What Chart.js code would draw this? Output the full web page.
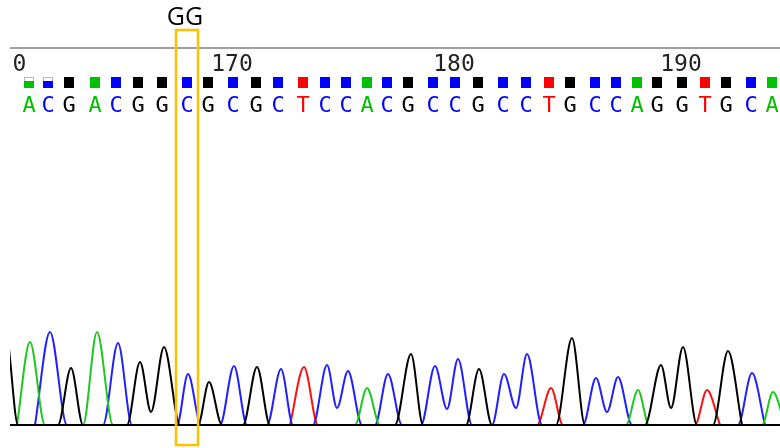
<!DOCTYPE html>
<html>
<head>
<meta charset="utf-8">
<script src="https://cdn.jsdelivr.net/npm/chart.js@4/dist/chart.umd.min.js"></script>
<style>
  html, body { margin: 0; padding: 0; background: #fff; }
</style>
</head>
<body>
<canvas id="trace" width="780" height="448"></canvas>
<script>
// base calls shown on the ruler (first visible base is 161)
const firstBase = 161;
const baseCalls = ['A','C','G','A','C','G','G','C','G','C','G','C','T','C','C','A','C',
                   'G','C','C','G','C','C','T','G','C','C','A','G','G','T','G','C','A'];
// scan position of each call
const baseScans = [19, 38, 59, 85, 106, 128, 152, 177, 198, 223, 246, 268, 293, 315, 336, 357, 377,
                   398, 423, 445, 468, 493, 516, 539, 560, 585, 606, 627, 647, 672, 695, 716, 741, 762];
// quality values (box fill)
const baseQuality = [25, 25, 40, 40, 40, 40, 40, 40, 40, 40, 40, 40, 40, 40, 40, 40, 40,
                     40, 40, 40, 40, 40, 40, 40, 40, 40, 40, 40, 40, 40, 40, 40, 40, 40];
const rulerNumbers = [160, 170, 180, 190];
const highlightBase = 168;
const highlightLabel = 'GG';

// trace points as [scan, signal]
const traceA = [[7,0],[20,83],[35,0],[73,0],[87,93],[103,0],[345,0],[357,37],[370,0],
                [616,0],[628,35],[639,0],[752,0],[763,33],[775,0]];
const traceC = [[25,0],[40,93],[57,0],[93,0],[108,82],[122,0],[167,0],[178,51],[191,0],
                [210,0],[224,59],[237,0],[257,0],[271,56],[283,0],[303,0],[317,60],[327,17],
                [338,54],[352,0],[365,0],[378,51],[392,0],[411,0],[425,59],[437,16],[448,66],
                [462,0],[482,0],[494,51],[506,17],[517,71],[532,0],[573,0],[586,47],[597,13],
                [608,48],[622,0],[728,0],[742,52],[755,0]];
const traceG = [[-1,76],[8,0],[48,0],[61,57],[73,0],[117,0],[130,63],[141,13],[154,78],[170,0],
                [188,0],[199,43],[212,0],[233,0],[247,58],[260,0],[385,0],[401,71],[413,0],
                [456,0],[469,56],[482,0],[546,0],[562,87],[575,0],[635,0],[651,60],[661,17],
                [673,78],[687,0],[703,0],[718,74],[732,0]];
const traceT = [[280,0],[294,58],[308,0],[527,0],[541,37],[553,0],[685,0],[697,35],[710,0]];

const baseColors = { A: '#00c000', C: '#0000ff', G: '#000000', T: '#ff0000' };
const traceColors = { A: '#1ec81e', C: '#2020ff', G: '#000000', T: '#ff1010' };

function scanOfBase(n) {
  let i = n - firstBase;
  if (i >= 0 && i < baseScans.length) return baseScans[i];
  // outside the visible calls, step by the mean spacing
  let step = (baseScans[baseScans.length - 1] - baseScans[0]) / (baseScans.length - 1);
  return baseScans[0] + i * step;
}

const rulerPlugin = {
  id: 'ruler',
  beforeDatasetsDraw(chart) {
    const { ctx, chartArea, scales } = chart;
    const x = scales.x;
    ctx.save();

    // top rule
    ctx.strokeStyle = '#a0a0a0';
    ctx.lineWidth = 2;
    ctx.beginPath();
    ctx.moveTo(chartArea.left, chartArea.top);
    ctx.lineTo(chartArea.right, chartArea.top);
    ctx.stroke();

    // position numbers, cut off at the left edge of the view
    ctx.save();
    ctx.beginPath();
    ctx.rect(chartArea.left + 3, 0, chartArea.right - chartArea.left, chart.height);
    ctx.clip();
    ctx.font = '23px "DejaVu Sans Mono"';
    ctx.fillStyle = '#222';
    ctx.textAlign = 'center';
    ctx.textBaseline = 'alphabetic';
    rulerNumbers.forEach(n => {
      ctx.fillText(String(n), x.getPixelForValue(scanOfBase(n)) - 1, chartArea.top + 23);
    });
    ctx.restore();

    // quality boxes + called bases
    ctx.textAlign = 'center';
    ctx.textBaseline = 'alphabetic';
    baseCalls.forEach((b, i) => {
      let px = Math.round(x.getPixelForValue(baseScans[i]));
      let top = chartArea.top + 29, h = 11, w = 10;
      let frac = Math.min(baseQuality[i], 40) / 40;
      if (frac < 1) {
        ctx.strokeStyle = '#b8b8b8';
        ctx.lineWidth = 1;
        ctx.strokeRect(px - w / 2 + 0.5, top + 0.5, w - 1, h - 1);
      }
      ctx.fillStyle = baseColors[b];
      let fh = Math.round(h * frac);
      ctx.fillRect(px - w / 2, top + h - fh, w, fh);

      ctx.font = '22px "DejaVu Sans Mono"';
      ctx.fillText(b, px, chartArea.top + 64);
    });
    ctx.restore();
  },
  afterDatasetsDraw(chart) {
    const { ctx, chartArea, scales } = chart;
    const x = scales.x, y = scales.y;
    ctx.save();
    // baseline
    ctx.strokeStyle = '#000';
    ctx.lineWidth = 2;
    ctx.beginPath();
    ctx.moveTo(chartArea.left, y.getPixelForValue(0));
    ctx.lineTo(chartArea.right, y.getPixelForValue(0));
    ctx.stroke();

    // highlighted position
    let c = scanOfBase(highlightBase);
    let left = x.getPixelForValue(c - 11), right = x.getPixelForValue(c + 11);
    ctx.strokeStyle = '#ffc000';
    ctx.lineWidth = 2.5;
    ctx.strokeRect(left, chartArea.top - 18, right - left, chartArea.bottom - chartArea.top + 38);
    ctx.fillStyle = '#000';
    ctx.font = '25px "Open Sans"';
    ctx.textAlign = 'center';
    ctx.textBaseline = 'alphabetic';
    ctx.fillText(highlightLabel, (left + right) / 2 - 2, chartArea.top - 23);
    ctx.restore();
  }
};

function traceSet(base, pts) {
  return {
    label: base,
    data: pts,
    borderColor: traceColors[base],
    borderWidth: 2,
    pointRadius: 0,
    fill: false,
    cubicInterpolationMode: 'monotone'
  };
}

new Chart(document.getElementById('trace'), {
  type: 'line',
  data: {
    datasets: [traceSet('G', traceG), traceSet('A', traceA), traceSet('C', traceC), traceSet('T', traceT)]
  },
  options: {
    responsive: false,
    devicePixelRatio: 1,
    animation: false,
    layout: { padding: { left: 10, top: 48, right: 0, bottom: 23 } },
    scales: {
      x: { type: 'linear', min: 0, max: 770, display: false },
      y: { min: 0, max: 377, display: false }
    },
    plugins: { legend: { display: false }, tooltip: { enabled: false } }
  },
  plugins: [rulerPlugin]
});
</script>
</body>
</html>
